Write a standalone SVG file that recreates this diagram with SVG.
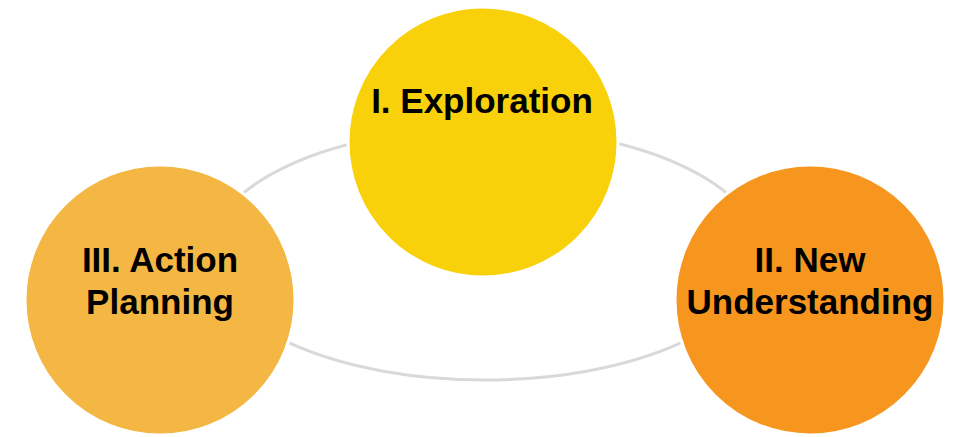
<svg xmlns="http://www.w3.org/2000/svg" width="955" height="437" viewBox="0 0 955 437">
  <style>
    .node { stroke: #ffffff; stroke-width: 3; }
    .lbl { font-family: "Liberation Sans", Arial, sans-serif; font-weight: bold; font-size: 35px; fill: #000000; text-anchor: middle; }
    .ring { fill: none; stroke: #D9D9D9; stroke-width: 3; }
  </style>
  <rect width="955" height="437" fill="#ffffff"/>
  <g id="connectors">
    <ellipse class="ring" cx="485" cy="254" rx="276" ry="126"/>
  </g>
  <g id="node-exploration">
    <circle class="node" cx="483" cy="142" r="135" fill="#F9D10B"/>
    <text class="lbl" x="482" y="113">I. Exploration</text>
  </g>
  <g id="node-new-understanding">
    <circle class="node" cx="810" cy="300" r="135" fill="#F7961F"/>
    <text class="lbl" x="810" y="272">II. New</text>
    <text class="lbl" x="810" y="314">Understanding</text>
  </g>
  <g id="node-action-planning">
    <circle class="node" cx="160" cy="300" r="135" fill="#F4B744"/>
    <text class="lbl" x="160" y="272">III. Action</text>
    <text class="lbl" x="160" y="314">Planning</text>
  </g>
</svg>
